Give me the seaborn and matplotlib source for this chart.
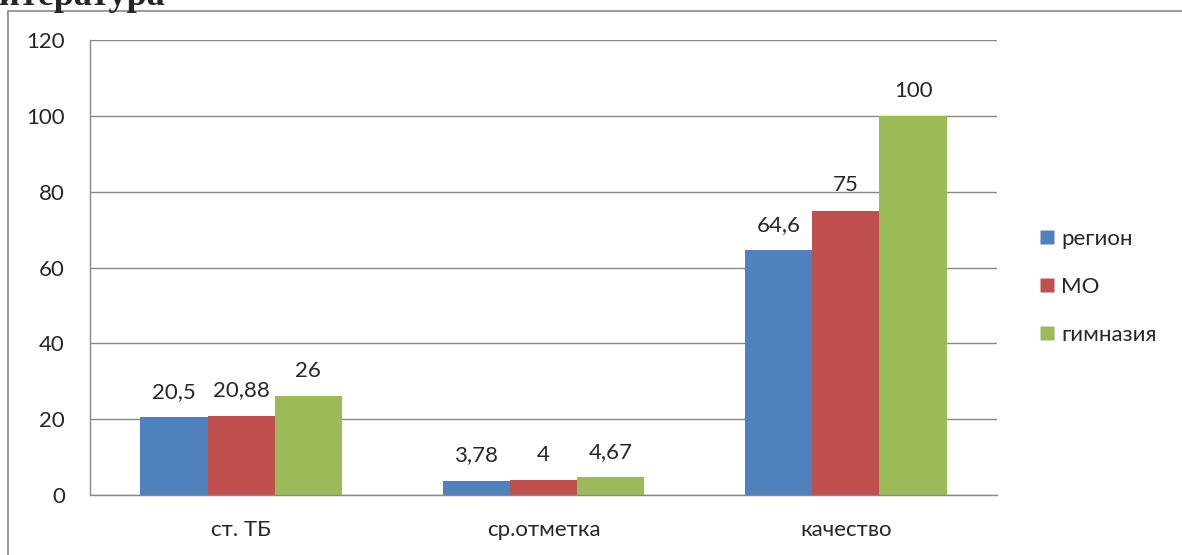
import matplotlib
matplotlib.use("Agg")
import matplotlib.pyplot as plt
import seaborn as sns
import pandas as pd
from matplotlib.lines import Line2D
from matplotlib.patches import Rectangle

categories = ["ст. ТБ", "ср.отметка", "качество"]
series = ["регион", "МО", "гимназия"]
region = [20.5, 3.78, 64.6]
mo = [20.88, 4, 75]
gymn = [26, 4.67, 100]
colors = ["#4F81BD", "#C0504D", "#9BBB59"]
yticks = [0, 20, 40, 60, 80, 100, 120]

rows = []
for name, vals in zip(series, [region, mo, gymn]):
    for c, v in zip(categories, vals):
        rows.append({"cat": c, "series": name, "value": v})
df = pd.DataFrame(rows)

sns.set_theme(style="white")
plt.rcParams["font.family"] = ["Lato", "DejaVu Sans"]

FS = 16
W, H = 1182, 555
fig = plt.figure(figsize=(W / 100, H / 100), dpi=100)
ax = fig.add_axes([90 / W, 1 - 495 / H, (997 - 90) / W, (495 - 40) / H])

sns.barplot(data=df, x="cat", y="value", hue="series", order=categories,
            hue_order=series, palette=colors, width=0.667, gap=0,
            saturation=1, ax=ax, legend=False, edgecolor="none")

ax.set_ylim(0, 120)
ax.set_xlim(-0.5, 2.5)
ax.set_yticks(yticks)
ax.set_yticklabels([str(t) for t in yticks], fontsize=FS)
ax.yaxis.grid(True, color="#888888", linewidth=1)
ax.set_axisbelow(True)
ax.set_xlabel("")
ax.set_ylabel("")

ax.set_xticks([-0.5, 0.5, 1.5, 2.5])
ax.set_xticklabels([])
ax.set_xticks([0, 1, 2], minor=True)
ax.set_xticklabels(categories, minor=True, fontsize=FS)
ax.tick_params(axis="x", which="major", length=6, width=1, color="#888888", direction="out")
ax.tick_params(axis="x", which="minor", length=0, pad=18)
ax.tick_params(axis="y", length=6, width=1, color="#888888", direction="out", pad=12)
for s in ["top", "right"]:
    ax.spines[s].set_visible(False)
for s in ["left", "bottom"]:
    ax.spines[s].set_color("#888888")
    ax.spines[s].set_linewidth(1)

for cont, vals in zip(ax.containers, [region, mo, gymn]):
    labels = [("%g" % v).replace(".", ",") for v in vals]
    ax.bar_label(cont, labels=labels, padding=11, fontsize=FS)

handles = [Line2D([], [], marker="s", linestyle="none", markersize=10.5,
                  markerfacecolor=c, markeredgecolor="none") for c in colors]
fig.legend(handles, series, loc="center left", bbox_to_anchor=(1018 / W, 1 - 287 / H),
           frameon=False, fontsize=FS, handletextpad=0.25, labelspacing=1.25,
           handlelength=0.8)

# outer frame
fig.patches.append(Rectangle((8 / W, -0.05), 1.2, 1 - 11 / H + 0.05,
                             transform=fig.transFigure, fill=False,
                             edgecolor="#888888", linewidth=1.2))

fig.text(165 / W, 1 - 5 / H, "итература", fontsize=26, fontweight="bold",
         family="Liberation Serif", ha="right", va="baseline")

fig.savefig("out.png", dpi=100)
